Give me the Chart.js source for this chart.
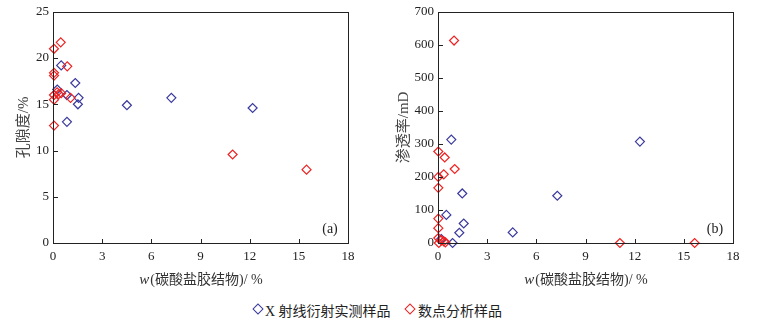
<!DOCTYPE html>
<html>
<head>
<meta charset="utf-8">
<script src="https://cdn.jsdelivr.net/npm/chart.js@4.4.0/dist/chart.umd.min.js"></script>
<style>
body { margin: 0; background: #fff; width: 777px; height: 320px; position: relative; overflow: hidden; }
.box { position: absolute; top: 0; width: 370px; height: 290px; }
#legend { position: absolute; top: 300px; left: 0; width: 777px; height: 18px; font: 14px "Liberation Serif", "Noto Sans CJK SC", serif; color: #222; }
#legend span { position: absolute; top: 0; white-space: nowrap; }
#legend i { position: absolute; top: 5px; width: 6px; height: 6px; border: 1.3px solid; transform: rotate(45deg); }
</style>
</head>
<body>
<div class="box" style="left:0"><canvas id="porosity"></canvas></div>
<div class="box" style="left:385px"><canvas id="perm"></canvas></div>
<div id="legend">
  <i style="left:254px;border-color:#3a3a9e"></i><span style="left:265px">X 射线衍射实测样品</span>
  <i style="left:406px;border-color:#ee2222"></i><span style="left:418px">数点分析样品</span>
</div>
<script>
var seriesNames = ["X 射线衍射实测样品", "数点分析样品"];
var seriesColors = ["#3a3a9e", "#ee2222"];

// (a) 孔隙度
var xrdCarbA = [0.5, 1.36, 0.26, 0.85, 1.56, 1.52, 0.85, 4.51, 7.22, 12.18];
var xrdPorA  = [19.2, 17.3, 16.6, 16.0, 15.7, 15.0, 13.1, 14.9, 15.7, 14.6];
var ptCarbA  = [0.47, 0.06, 0.87, 0.06, 0.06, 0.06, 0.06, 0.25, 0.35, 0.5, 1.07, 0.06, 10.96, 15.47];
var ptPorA   = [21.7, 21.0, 19.1, 18.4, 18.1, 16.0, 15.5, 16.3, 16.1, 16.2, 15.7, 12.7, 9.57, 7.93];

// (b) 渗透率
var xrdCarbB = [0.81, 12.32, 1.48, 7.28, 0.51, 1.57, 1.3, 4.56, 0.2, 0.89];
var xrdPermB = [313, 307, 150, 143, 85, 59, 31, 32, 12, 0];
var ptCarbB  = [0.98, 0.02, 0.41, 1.02, 0.02, 0.35, 0.02, 0.02, 0.02, 0.02, 0.2, 0.35, 0.05, 0.45, 11.1, 15.66];
var ptPermB  = [613, 277, 259, 224, 200, 208, 167, 74, 45, 15, 8, 5, 0, 2, 0, 0];

var fontFam = '"Liberation Serif", "Noto Sans CJK SC", serif';

function pts(xs, ys) {
    return xs.map(function(x, i) { return { x: x, y: ys[i] }; });
}

var framePlugin = {
    id: "frame",
    afterDraw: function(chart) {
        var ctx = chart.ctx, a = chart.chartArea;
        var xs = chart.scales.x, ys = chart.scales.y;
        ctx.save();
        ctx.strokeStyle = "#222";
        ctx.lineWidth = 1;
        ctx.strokeRect(Math.round(a.left) + 0.5, Math.round(a.top) + 0.5, Math.round(a.right - a.left), Math.round(a.bottom - a.top));
        ctx.beginPath();
        xs.ticks.forEach(function(t) {
            var px = Math.round(xs.getPixelForValue(t.value)) + 0.5;
            ctx.moveTo(px, a.bottom);
            ctx.lineTo(px, a.bottom - 4);
        });
        ys.ticks.forEach(function(t) {
            var py = Math.round(ys.getPixelForValue(t.value)) + 0.5;
            ctx.moveTo(a.left, py);
            ctx.lineTo(a.left + 5, py);
        });
        ctx.stroke();

        // panel tag
        ctx.fillStyle = "#222";
        ctx.font = "14px " + fontFam;
        ctx.textAlign = "center";
        ctx.textBaseline = "middle";
        ctx.fillText(chart.options.plugins.frame.tag, a.right - 18, a.bottom - 14);

        // x title, italic w
        var w1 = "w", rest = "(碳酸盐胶结物)/ %";
        ctx.fillStyle = "#333";
        ctx.textAlign = "left";
        ctx.font = "italic 15px " + fontFam;
        var wa = ctx.measureText(w1).width;
        ctx.font = "14px " + fontFam;
        var wb = ctx.measureText(rest).width;
        var x0 = (a.left + a.right) / 2 - (wa + wb) / 2;
        var ty = a.bottom + 37;
        ctx.font = "italic 15px " + fontFam;
        ctx.fillText(w1, x0, ty);
        ctx.font = "14px " + fontFam;
        ctx.fillText(rest, x0 + wa + 1, ty);
        ctx.restore();
    }
};

function makeChart(id, blue, red, yMax, yStep, yTitle, tag, yTitlePad) {
    var ctx = document.getElementById(id).getContext("2d");
    return new Chart(ctx, {
        type: "scatter",
        data: {
            datasets: [
                { label: seriesNames[1], data: red, borderColor: seriesColors[1], backgroundColor: "transparent",
                  pointStyle: "rectRot", pointRadius: 4.5, borderWidth: 1.2, clip: false },
                { label: seriesNames[0], data: blue, borderColor: seriesColors[0], backgroundColor: "transparent",
                  pointStyle: "rectRot", pointRadius: 4.5, borderWidth: 1.2, clip: false }
            ]
        },
        options: {
            responsive: true,
            maintainAspectRatio: false,
            animation: false,
            layout: { padding: { left: 0, top: 9, right: 22, bottom: 0 } },
            plugins: {
                legend: { display: false },
                tooltip: { enabled: false },
                frame: { tag: tag }
            },
            scales: {
                x: {
                    type: "linear", min: 0, max: 18,
                    grid: { display: false, drawTicks: false },
                    border: { display: false },
                    ticks: { stepSize: 3, padding: 6, color: "#222", font: { family: fontFam, size: 13 }, maxRotation: 0 },
                    afterFit: function(s) { s.height = 47; }
                },
                y: {
                    type: "linear", min: 0, max: yMax,
                    grid: { display: false, drawTicks: false },
                    border: { display: false },
                    ticks: { stepSize: yStep, padding: 4, color: "#222", font: { family: fontFam, size: 13 } },
                    title: { display: true, text: yTitle, color: "#444", font: { family: fontFam, size: 15 }, padding: { top: yTitlePad, bottom: 0 } },
                    afterFit: function(s) { s.width = 53; }
                }
            }
        },
        plugins: [framePlugin]
    });
}

makeChart("porosity", pts(xrdCarbA, xrdPorA), pts(ptCarbA, ptPorA), 25, 5, "孔隙度/%", "(a)", 15);
makeChart("perm", pts(xrdCarbB, xrdPermB), pts(ptCarbB, ptPermB), 700, 100, "渗透率/mD", "(b)", 10);
</script>
</body>
</html>
